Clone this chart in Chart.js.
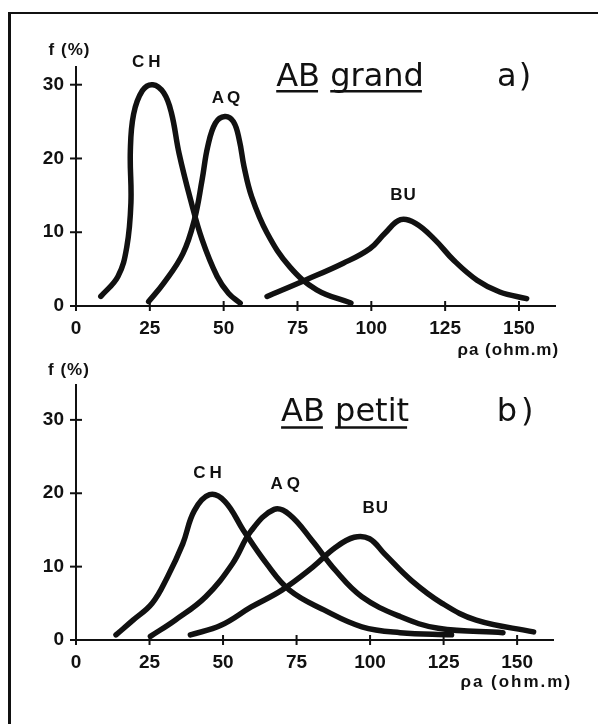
<!DOCTYPE html>
<html>
<head>
<meta charset="utf-8">
<script src="https://cdn.jsdelivr.net/npm/chart.js@4.4.1/dist/chart.umd.min.js"></script>
<style>
  body { margin: 0; background: #fff; }
  #wrap { position: relative; width: 598px; height: 724px; overflow: hidden; background: #fff; }
  #frame { position: absolute; left: 8px; top: 12px; width: 620px; height: 760px;
           border-left: 3px solid #111; border-top: 2px solid #111; }
  .box { position: absolute; left: 0; width: 598px; height: 362px; }
</style>
</head>
<body>
<div id="wrap">
  <div id="frame"></div>
  <div class="box" style="top:0"><canvas id="chartA" width="598" height="362"></canvas></div>
  <div class="box" style="top:362px"><canvas id="chartB" width="598" height="362"></canvas></div>
</div>
<script>
// tick values
const xTicks = [0, 25, 50, 75, 100, 125, 150];
const yTicks = [0, 10, 20, 30];

// a) AB grand  -- resistivity (ohm.m) / frequency (%)
const aCH_rho = [8.4, 14.2, 17.2, 18.6, 18.4, 19.5, 22.5, 26, 29.7, 32.3, 34.9, 38.8, 42.7, 47.8, 51.7, 55.6];
const aCH_f   = [1.3, 4.0, 8.0, 14.0, 21.0, 26.0, 29.2, 30.0, 28.9, 26.2, 20.7, 14.4, 9.0, 4.0, 1.7, 0.4];
const aAQ_rho = [24.6, 29.7, 36.2, 40.1, 42.7, 44.6, 47.2, 50.4, 53.3, 55.3, 56.9, 59.5, 64.7, 72.4, 81.5, 93.1];
const aAQ_f   = [0.6, 3.1, 7.1, 11.7, 17.1, 21.6, 24.8, 25.7, 25.0, 22.5, 18.9, 14.8, 9.9, 5.3, 2.2, 0.4];
const aBU_rho = [64.7, 77.6, 90.5, 99.6, 104.7, 109.9, 115, 121.5, 127.9, 135.8, 143.5, 152.6];
const aBU_f   = [1.3, 3.5, 5.8, 7.8, 9.9, 11.7, 11.2, 9.0, 6.2, 3.5, 1.9, 1.0];

// b) AB petit
const bCH_rho = [13.6, 19.4, 25.9, 31.1, 36.3, 40.2, 45.4, 50.6, 57.0, 64.8, 72.6, 84.3, 97.2, 110.2, 127.7];
const bCH_f   = [0.7, 2.7, 5.0, 8.6, 13.1, 17.6, 19.8, 18.9, 14.9, 10.4, 6.8, 4.1, 1.8, 1.0, 0.7];
const bAQ_rho = [25.3, 33.7, 44.1, 53.2, 59.6, 67.4, 72.6, 80.4, 88.2, 97.2, 110.2, 123.2, 145.2];
const bAQ_f   = [0.5, 2.7, 5.9, 10.4, 14.9, 17.8, 17.1, 13.5, 9.5, 5.9, 3.2, 1.6, 1.0];
const bBU_rho = [38.9, 49.3, 59.6, 70.0, 80.4, 88.2, 94.6, 99.8, 105.0, 114.1, 124.5, 136.1, 155.6];
const bBU_f   = [0.7, 2.0, 4.5, 6.8, 9.9, 12.6, 14.0, 13.8, 11.7, 8.1, 5.0, 2.7, 1.1];

const INK = "#111";
const numFont = { family: '"Liberation Sans", Arial, sans-serif', size: 19, weight: "bold" };

function pts(xs, ys) {
  return xs.map((x, i) => ({ x: x, y: ys[i] }));
}
function curve(xs, ys) {
  return {
    data: pts(xs, ys),
    borderColor: INK,
    borderWidth: 5.5,
    borderCapStyle: "round",
    borderJoinStyle: "round",
    pointRadius: 0,
    tension: 0.4,
    fill: false,
  };
}

// draws crossing tick marks and the text labels
const annot = {
  id: "annot",
  afterDraw(chart, args, opts) {
    const ctx = chart.ctx;
    const sx = chart.scales.x, sy = chart.scales.y;
    const area = chart.chartArea;
    ctx.save();
    ctx.strokeStyle = INK;
    ctx.lineWidth = 2;
    xTicks.forEach(v => {
      const px = sx.getPixelForValue(v);
      ctx.beginPath(); ctx.moveTo(px, area.bottom - 5); ctx.lineTo(px, area.bottom + 5); ctx.stroke();
    });
    yTicks.forEach(v => {
      const py = sy.getPixelForValue(v);
      ctx.beginPath(); ctx.moveTo(area.left - 6, py); ctx.lineTo(area.left + 6, py); ctx.stroke();
    });
    ctx.fillStyle = INK;
    ctx.textBaseline = "middle";
    (opts.texts || []).forEach(t => {
      ctx.font = t.font;
      ctx.letterSpacing = t.spacing || "0px";
      ctx.textAlign = t.align || "center";
      const px = sx.getPixelForValue(t.x), py = sy.getPixelForValue(t.y);
      ctx.fillText(t.text, px, py);
      if (t.underline) {
        ctx.lineWidth = 2.5;
        const words = t.text.split(" ");
        const full = ctx.measureText(t.text).width;
        let cx = px - full / 2;
        words.forEach(w => {
          const ww = ctx.measureText(w).width;
          ctx.beginPath();
          ctx.moveTo(cx, py + t.underline);
          ctx.lineTo(cx + ww - 2, py + t.underline);
          ctx.stroke();
          cx += ww + ctx.measureText(" ").width;
        });
      }
    });
    ctx.restore();
  }
};

function makeChart(id, sets, xMax, yMax, padTop, padRight, xAxisH, texts) {
  return new Chart(document.getElementById(id), {
    type: "line",
    data: { datasets: sets },
    plugins: [annot],
    options: {
      responsive: false,
      animation: false,
      devicePixelRatio: 1,
      layout: { padding: { top: padTop, right: padRight, left: 0, bottom: 0 } },
      plugins: { legend: { display: false }, tooltip: { enabled: false }, annot: { texts: texts } },
      scales: {
        x: {
          type: "linear", min: 0, max: xMax,
          ticks: { stepSize: 25, includeBounds: false, color: INK, font: numFont, padding: 11, maxRotation: 0 },
          grid: { display: true, drawOnChartArea: false, drawTicks: false },
          border: { display: true, color: INK, width: 2 },
          afterFit(s) { s.height = xAxisH; },
        },
        y: {
          min: 0, max: yMax,
          ticks: { stepSize: 10, includeBounds: false, color: INK, font: numFont, padding: 12 },
          grid: { display: true, drawOnChartArea: false, drawTicks: false },
          border: { display: true, color: INK, width: 2 },
          afterFit(s) { s.width = 76; },
        },
      },
    },
  });
}

const labFont = 'bold 17px "Liberation Sans", Arial, sans-serif';
const titleFont = '32px "DejaVu Sans", sans-serif';
const unitFont = 'bold 17px "Liberation Sans", Arial, sans-serif';

makeChart("chartA",
  [curve(aCH_rho, aCH_f), curve(aAQ_rho, aAQ_f), curve(aBU_rho, aBU_f)],
  162.2, 32.4, 67, 43, 56,
  [
    { text: "CH", x: 24.5, y: 33.1, font: labFont, spacing: "4px" },
    { text: "AQ", x: 51.3, y: 28.2, font: labFont, spacing: "3px" },
    { text: "BU", x: 110.9, y: 15.0, font: labFont, spacing: "1px" },
    { text: "AB grand", x: 92.8, y: 31.0, font: titleFont, underline: 14 },
    { text: "a)", x: 148.7, y: 31.0, font: titleFont, spacing: "2px" },
    { text: "f (%)", x: -2.2, y: 34.7, font: labFont, spacing: "1px" },
    { text: "ρa (ohm.m)", x: 163.6, y: -6.0, font: unitFont, align: "right", spacing: "1px" },
  ]);

makeChart("chartB",
  [curve(bCH_rho, bCH_f), curve(bAQ_rho, bAQ_f), curve(bBU_rho, bBU_f)],
  162.2, 34.7, 21, 45, 84,
  [
    { text: "CH", x: 45.4, y: 22.7, font: labFont, spacing: "4px" },
    { text: "AQ", x: 71.8, y: 21.2, font: labFont, spacing: "4px" },
    { text: "BU", x: 101.9, y: 17.9, font: labFont, spacing: "1px" },
    { text: "AB petit", x: 91.5, y: 31.0, font: titleFont, underline: 15 },
    { text: "b)", x: 150, y: 31.0, font: titleFont, spacing: "4px" },
    { text: "f (%)", x: -2.4, y: 36.8, font: labFont, spacing: "1px" },
    { text: "ρa (ohm.m)", x: 168.7, y: -5.8, font: unitFont, align: "right", spacing: "2px" },
  ]);
</script>
</body>
</html>
